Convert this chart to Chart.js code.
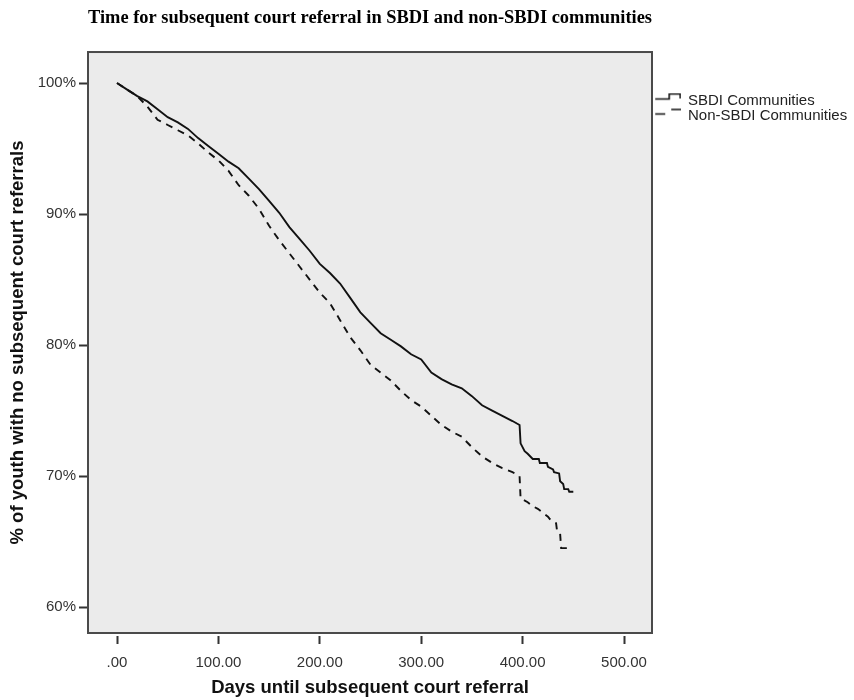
<!DOCTYPE html>
<html>
<head>
<meta charset="utf-8">
<script src="https://cdn.jsdelivr.net/npm/chart.js@4/dist/chart.umd.min.js"></script>
<style>
html,body{margin:0;padding:0;background:#ffffff;}
#wrap{width:854px;height:700px;}
</style>
</head>
<body>
<div id="wrap"><canvas id="c" width="854" height="700"></canvas></div>
<script>
// ---- data (Kaplan-Meier style survival curves) ----
const chartTitle = 'Time for subsequent court referral in SBDI and non-SBDI communities';
const xAxisTitle = 'Days until subsequent court referral';
const yAxisTitle = '% of youth with no subsequent court referrals';
const seriesNames = ['SBDI Communities', 'Non-SBDI Communities'];

const sbdiDays = [0,10,20,30,40,50,60,70,80,90,100,110,120,130,140,150,160,170,180,190,200,210,220,230,240,250,260,270,280,290,300,310,320,330,340,350,360,370,380,390,397,398,402,405,410,416,417,424,425,430,431,436,437,440,441,445,446,450];
const sbdiValues = [100,99.5,99.0,98.6,98.0,97.4,97.0,96.5,95.8,95.2,94.6,94.0,93.5,92.7,91.9,91.0,90.1,89.0,88.1,87.2,86.2,85.5,84.7,83.6,82.5,81.7,80.9,80.4,79.9,79.3,78.9,77.9,77.4,77.0,76.7,76.1,75.4,75.0,74.6,74.2,73.9,72.5,71.9,71.7,71.3,71.3,71.0,71.0,70.7,70.5,70.3,70.2,69.6,69.4,69.0,69.0,68.8,68.8];

const nonDays = [0,10,20,30,40,50,60,70,80,90,100,110,120,130,140,150,160,170,180,190,200,210,220,230,240,250,260,270,280,290,300,310,320,330,340,350,360,370,380,390,397,398,405,410,415,420,425,428,433,434,437,438,447];
const nonValues = [100,99.5,99.0,98.2,97.2,96.8,96.4,96.0,95.4,94.7,94.1,93.3,92.2,91.4,90.4,89.1,88.0,87.0,86.0,85.0,84.0,83.2,81.9,80.6,79.6,78.5,77.9,77.3,76.5,75.8,75.3,74.6,73.9,73.4,73.0,72.2,71.5,71.0,70.6,70.3,70.0,68.3,68.0,67.7,67.5,67.2,66.9,66.6,66.4,65.8,65.6,64.5,64.5];

const xTickValues = [0,100,200,300,400,500];
const xTickLabels = ['.00','100.00','200.00','300.00','400.00','500.00'];
const yTickValues = [60,70,80,90,100];
const yTickLabels = ['60%','70%','80%','90%','100%'];

// ---- legend symbols ----
function makeSymbol(kind){
  const cv = document.createElement('canvas');
  cv.width = 30; cv.height = 16;
  const g = cv.getContext('2d');
  g.strokeStyle = '#111'; g.lineWidth = 1.6;
  g.beginPath();
  if (kind === 'step') {
    g.moveTo(4, 6.5); g.lineTo(18, 6.5); g.lineTo(18, 1.5); g.lineTo(29, 1.5); g.lineTo(29, 6);
  } else {
    g.moveTo(4, 6.5); g.lineTo(14, 6.5);
    g.moveTo(20, 2); g.lineTo(30, 2);
  }
  g.stroke();
  return cv;
}
const symSolid = makeSymbol('step');
const symDash = makeSymbol('dash');

const framePlugin = {
  id: 'frame',
  beforeDatasetsDraw(chart){
    const a = chart.chartArea, ctx = chart.ctx;
    ctx.save();
    ctx.fillStyle = '#ebebeb';
    ctx.fillRect(a.left, a.top, a.right - a.left, a.bottom - a.top);
    ctx.restore();
  },
  afterDatasetsDraw(chart){
    const a = chart.chartArea, ctx = chart.ctx;
    ctx.save();
    ctx.strokeStyle = '#4a4a4a'; ctx.lineWidth = 2;
    ctx.strokeRect(a.left, a.top, a.right - a.left, a.bottom - a.top);
    ctx.restore();
  }
};

const sans = "'Liberation Sans', Arial, sans-serif";

new Chart(document.getElementById('c'), {
  type: 'line',
  data: {
    datasets: [
      {
        label: seriesNames[0],
        data: sbdiDays.map((d,i)=>({x:d, y:sbdiValues[i]})),
        borderColor: '#111', borderWidth: 1.9, tension: 0,
        pointRadius: 0, pointStyle: symSolid, fill: false
      },
      {
        label: seriesNames[1],
        data: nonDays.map((d,i)=>({x:d, y:nonValues[i]})),
        borderColor: '#111', borderWidth: 1.9, tension: 0, borderDash: [7,6],
        pointRadius: 0, pointStyle: symDash, fill: false
      }
    ]
  },
  options: {
    responsive: false,
    animation: false,
    events: [],
    layout: { padding: 0 },
    plugins: {
      title: {
        display: true, text: chartTitle, fullSize: false,
        color: '#000',
        font: { family: "'Liberation Serif', 'Times New Roman', serif", size: 18.6, weight: 'bold' },
        padding: { top: 6.8, bottom: 22.9 }
      },
      legend: {
        display: true, position: 'right', align: 'start', maxWidth: 202,
        title: { display: true, text: '', font: { size: 10 }, padding: { top: 81, bottom: 0 } },
        labels: {
          usePointStyle: true, pointStyleWidth: 28.5, boxHeight: 15,
          padding: 0, color: '#222',
          font: { family: sans, size: 15 }
        }
      },
      tooltip: { enabled: false }
    },
    scales: {
      x: {
        type: 'linear', min: -28.6, max: 527.6,
        afterBuildTicks: s => { s.ticks = xTickValues.map(v => ({value: v})); },
        afterFit: s => { s.height = 67; },
        ticks: {
          callback: (v, i) => xTickLabels[i],
          color: '#333', font: { family: sans, size: 15 }, padding: 10, maxRotation: 0
        },
        grid: { drawOnChartArea: false, drawTicks: true, tickLength: 11, tickColor: '#333', tickWidth: 2, tickBorderDash: [0,3,8,100] },
        border: { display: false },
        title: {
          display: true, text: xAxisTitle, color: '#111',
          font: { family: sans, size: 18.5, weight: 'bold' },
          padding: { top: 0, bottom: 0.9 }
        }
      },
      y: {
        type: 'linear', min: 58.02, max: 102.37,
        afterBuildTicks: s => { s.ticks = yTickValues.map(v => ({value: v})); },
        afterFit: s => { s.width = 88; },
        ticks: {
          callback: (v, i) => yTickLabels[i],
          color: '#333', font: { family: sans, size: 15 }, padding: 3
        },
        grid: { drawOnChartArea: false, drawTicks: true, tickLength: 9, tickColor: '#333', tickWidth: 2 },
        border: { display: false },
        title: {
          display: true, text: yAxisTitle, color: '#111',
          font: { family: sans, size: 18.5, weight: 'bold' },
          padding: { top: 6.9, bottom: 0 }
        }
      }
    }
  },
  plugins: [framePlugin]
});
</script>
</body>
</html>
